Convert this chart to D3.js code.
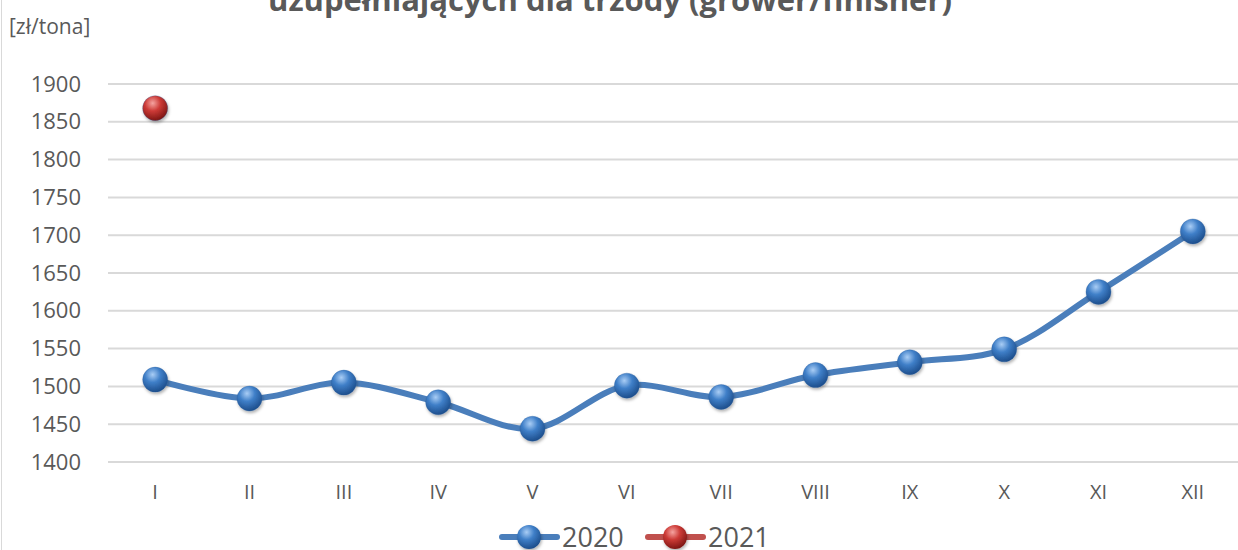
<!DOCTYPE html>
<html><head><meta charset="utf-8">
<script src="https://cdn.jsdelivr.net/npm/d3@7"></script>
<style>body{margin:0;background:#fff}svg{display:block}</style>
</head><body>
<script>
const months = ["I","II","III","IV","V","VI","VII","VIII","IX","X","XI","XII"];
const values2020 = [1509,1484,1505,1479,1444,1501,1486,1515,1532,1549,1625,1705];
const values2021 = [1868];
const yTicks = [1400,1450,1500,1550,1600,1650,1700,1750,1800,1850,1900];
const titleLines = ["Ceny mieszanek", "uzupełniających dla trzody (grower/finisher)"];
const unitLabel = "[zł/tona]";
const seriesNames = ["2020","2021"];

const W=1238,H=550;
const svg=d3.select("body").append("svg").attr("width",W).attr("height",H);
const font="'Open Sans', 'Liberation Sans', sans-serif";
const defs=svg.append("defs");
function grad(id,light,mid,dark){
  const g=defs.append("radialGradient").attr("id",id).attr("cx","40%").attr("cy","30%").attr("r","70%");
  g.append("stop").attr("offset","0%").attr("stop-color",light);
  g.append("stop").attr("offset","45%").attr("stop-color",mid);
  g.append("stop").attr("offset","100%").attr("stop-color",dark);
}
grad("gBlue","#a9cdf5","#3f7fc8","#1d4e8c");
grad("gRed","#f5a3a0","#cc3a36","#7e1614");
const f=defs.append("filter").attr("id","sh").attr("x","-50%").attr("y","-50%").attr("width","200%").attr("height","200%");
f.append("feDropShadow").attr("dx",1).attr("dy",2).attr("stdDeviation",1.5).attr("flood-color","#000").attr("flood-opacity",0.3);

const x=d3.scaleBand().domain(months).range([108,1240]);
const y=d3.scaleLinear().domain([1400,1900]).range([462,84]);

// border
svg.append("line").attr("x1",1.5).attr("x2",1.5).attr("y1",0).attr("y2",H).attr("stroke","#d9d9d9");

// gridlines
svg.append("g").selectAll("line").data(yTicks).join("line")
 .attr("x1",108).attr("x2",1238).attr("y1",d=>y(d)).attr("y2",d=>y(d))
 .attr("stroke","#d9d9d9").attr("stroke-width",2);

// y axis
const ya=svg.append("g").attr("transform","translate(81,0)")
 .call(d3.axisLeft(y).tickValues(yTicks).tickFormat(d3.format("d")).tickSize(0).tickPadding(0));
ya.select(".domain").remove();
ya.selectAll("text").attr("font-family",font).attr("font-size",22).attr("fill","#595959");

// x axis
const xa=svg.append("g").attr("transform","translate(0,485)")
 .call(d3.axisBottom(x).tickSize(0).tickPadding(0));
xa.select(".domain").remove();
xa.selectAll("text").attr("font-family",font).attr("font-size",20).attr("fill","#595959");

// title
svg.append("text").attr("x",610).attr("y",11).attr("text-anchor","middle")
 .attr("font-family",font).attr("font-weight","bold").attr("font-size",31).attr("fill","#595959")
 .text(titleLines[1]);
svg.append("text").attr("x",9).attr("y",34).attr("font-family",font).attr("font-size",21).attr("fill","#595959").text(unitLabel);

// line
const line=d3.line().x((d,i)=>x(months[i])+x.bandwidth()/2).y(d=>y(d)).curve(d3.curveCatmullRom.alpha(0.5));
svg.append("path").datum(values2020).attr("d",line).attr("fill","none").attr("stroke","#4a7ebb").attr("stroke-width",6).attr("stroke-linejoin","round");

function dots(data,fill){
  svg.append("g").selectAll("circle").data(data).join("circle")
   .attr("cx",(d,i)=>x(months[i])+x.bandwidth()/2).attr("cy",d=>y(d)).attr("r",12.5)
   .attr("fill",fill).attr("stroke","#2a5d9a").attr("stroke-opacity",0.3).attr("filter","url(#sh)");
}
dots(values2020,"url(#gBlue)");
dots(values2021,"url(#gRed)");

// legend
const leg=[{n:seriesNames[0],c:"#4a7ebb",g:"url(#gBlue)",x:500},{n:seriesNames[1],c:"#c0504d",g:"url(#gRed)",x:646}];
leg.forEach(l=>{
  svg.append("line").attr("x1",l.x+2).attr("x2",l.x+57).attr("y1",537).attr("y2",537).attr("stroke",l.c).attr("stroke-width",6).attr("stroke-linecap","round");
  svg.append("circle").attr("cx",l.x+29).attr("cy",537).attr("r",12).attr("fill",l.g).attr("filter","url(#sh)");
  svg.append("text").attr("x",l.x+62).attr("y",547).attr("font-family",font).attr("font-size",27).attr("fill","#595959").text(l.n);
});
</script>
</body></html>
